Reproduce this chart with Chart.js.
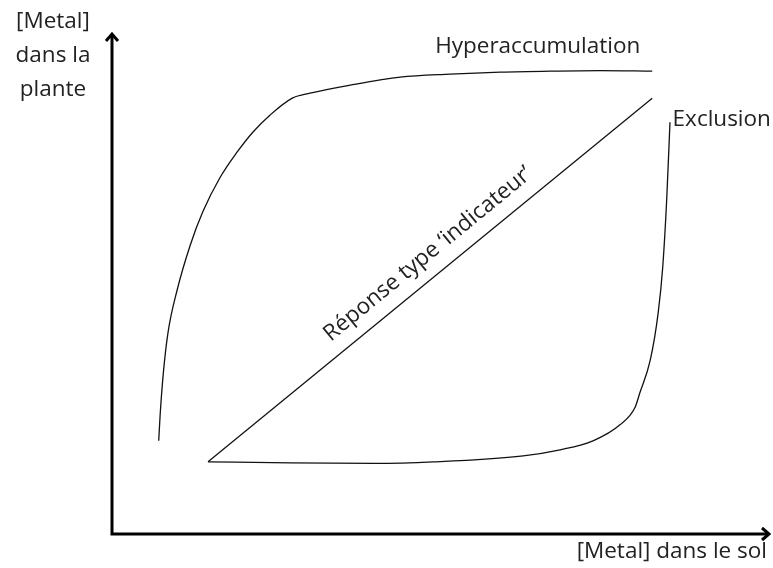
<!DOCTYPE html>
<html>
<head>
<meta charset="utf-8">
<script src="https://cdn.jsdelivr.net/npm/chart.js@4"></script>
<style>
  body { margin: 0; background: #fff; }
  #wrap { width: 773px; height: 568px; }
</style>
</head>
<body>
<div id="wrap"><canvas id="myChart" width="773" height="568"></canvas></div>
<script>
// curve points, in arbitrary units (0-100 on both axes)
const hyperX = [7.1, 7.3, 7.8, 8.5, 9.9, 11.9, 13.8, 16.4, 19.0, 21.4, 24.0, 27.4, 30.1, 36.2, 43.8, 51.4, 59.0, 66.6, 74.2, 82.1];
const hyperY = [18.6, 23.4, 32.1, 40.1, 48.7, 57.7, 64.3, 71.1, 76.2, 80.2, 83.6, 87.0, 88.0, 89.6, 91.2, 91.8, 92.2, 92.4, 92.5, 92.4];

const indicX = [14.6, 82.1];
const indicY = [14.4, 87.0];

const exclX = [14.6, 27.1, 39.7, 48.8, 62.5, 68.1, 73.1, 77.2, 79.5, 80.2, 81.8, 83.0, 83.7, 84.3, 84.8];
const exclY = [14.4, 14.2, 14.1, 14.4, 15.6, 16.8, 18.6, 21.8, 25.3, 28.1, 34.7, 44.1, 53.3, 66.7, 82.2];

const yTitle = ["[Metal]", "dans la", "plante"];
const xTitle = "[Metal] dans le sol";
const curveNames = ["Hyperaccumulation", "Réponse type ‘indicateur’", "Exclusion"];

const toPoints = (xs, ys) => xs.map((x, i) => ({ x: x, y: ys[i] }));

const ctx = document.getElementById("myChart").getContext("2d");

const lineStyle = {
  showLine: true,
  borderColor: "#111",
  borderWidth: 1.3,
  pointRadius: 0,
  fill: false,
};

// draws the two arrows of the axes and all the labels
const diagramPlugin = {
  id: "diagram",
  afterDraw(chart) {
    const c = chart.ctx;
    const a = chart.chartArea;
    const sx = chart.scales.x;
    const sy = chart.scales.y;
    c.save();

    // axes
    c.strokeStyle = "#000";
    c.lineWidth = 3;
    c.lineCap = "butt";
    c.beginPath();
    c.moveTo(a.left, a.bottom + 1.5);
    c.lineTo(a.left, a.top + 2);
    c.moveTo(a.left - 1.5, a.bottom);
    c.lineTo(a.right - 2, a.bottom);
    c.stroke();
    // arrow heads
    c.lineJoin = "miter";
    c.beginPath();
    c.moveTo(a.left - 6, a.top + 8);
    c.lineTo(a.left, a.top + 1);
    c.lineTo(a.left + 6, a.top + 8);
    c.moveTo(a.right - 8, a.bottom - 6);
    c.lineTo(a.right - 1, a.bottom);
    c.lineTo(a.right - 8, a.bottom + 6);
    c.stroke();

    // texts
    c.fillStyle = "#222";
    c.font = "22.5px 'Open Sans'";
    c.textBaseline = "middle";
    c.textAlign = "center";
    yTitle.forEach((t, i) => c.fillText(t, 53, 22 + i * 34));
    c.textAlign = "right";
    c.fillText(xTitle, 767, 552);

    c.textAlign = "center";
    c.fillText(curveNames[0], sx.getPixelForValue(64.7), sy.getPixelForValue(97.3));
    c.textAlign = "left";
    c.fillText(curveNames[2], sx.getPixelForValue(85.2), sy.getPixelForValue(82.8));

    // rotated label along the indicator line
    const x0 = sx.getPixelForValue(indicX[0]), y0 = sy.getPixelForValue(indicY[0]);
    const x1 = sx.getPixelForValue(indicX[1]), y1 = sy.getPixelForValue(indicY[1]);
    const ang = Math.atan2(y1 - y0, x1 - x0);
    c.translate(428, 254);
    c.rotate(ang);
    c.textAlign = "center";
    c.fillText(curveNames[1], 0, 0);
    c.restore();
  },
};

const config = {
  type: "scatter",
  data: {
    datasets: [
      { ...lineStyle, label: curveNames[0], data: toPoints(hyperX, hyperY), cubicInterpolationMode: "monotone" },
      { ...lineStyle, label: curveNames[1], data: toPoints(indicX, indicY), tension: 0 },
      { ...lineStyle, label: curveNames[2], data: toPoints(exclX, exclY), cubicInterpolationMode: "monotone" },
    ],
  },
  options: {
    responsive: false,
    animation: false,
    layout: {
      padding: { left: 112, top: 33, right: 3, bottom: 34 },
    },
    plugins: {
      legend: { display: false },
      tooltip: { enabled: false },
    },
    scales: {
      x: { type: "linear", min: 0, max: 100, display: false },
      y: { type: "linear", min: 0, max: 100, display: false },
    },
  },
  plugins: [diagramPlugin],
};

const myChart = new Chart(ctx, config);
</script>
</body>
</html>
